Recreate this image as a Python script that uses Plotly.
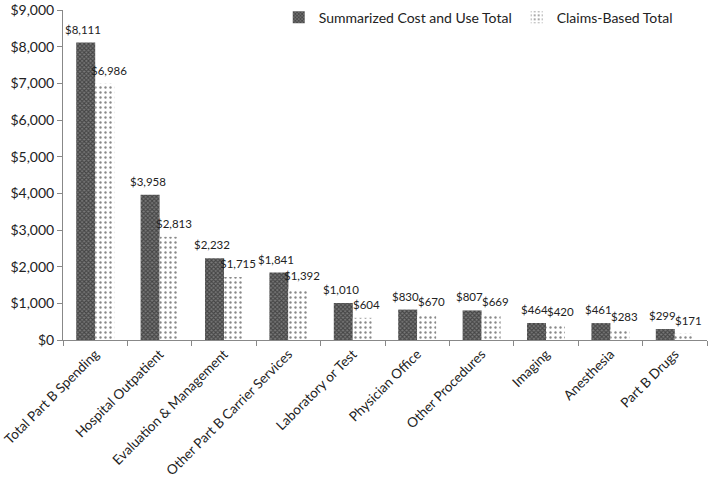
import plotly.graph_objects as go

categories = ["Total Part B Spending", "Hospital Outpatient", "Evaluation & Management",
              "Other Part B Carrier Services", "Laboratory or Test", "Physician Office",
              "Other Procedures", "Imaging", "Anesthesia", "Part B Drugs"]
summarized = [8111, 3958, 2232, 1841, 1010, 830, 807, 464, 461, 299]
claims = [6986, 2813, 1715, 1392, 604, 670, 669, 420, 283, 171]
y_ticks = [0, 1000, 2000, 3000, 4000, 5000, 6000, 7000, 8000, 9000]
y_tick_labels = ["$" + format(v, ",") for v in y_ticks]

FONT = "Lato, 'Open Sans', sans-serif"

fig = go.Figure()
fig.add_trace(go.Bar(
    x=categories, y=summarized, name="Summarized Cost and Use Total",
    marker=dict(color="#ffffff", line=dict(width=0),
                pattern=dict(shape="x", fgcolor="#111", bgcolor="#7a7a7a", size=3, solidity=0.6)),
))
fig.add_trace(go.Bar(
    x=categories, y=claims, name="Claims-Based Total",
    marker=dict(color="#ffffff", line=dict(width=0),
                pattern=dict(shape=".", fgcolor="#111", bgcolor="#ffffff", size=5, solidity=0.18)),
))

# value labels above each bar (positioned in data coordinates, shifted onto each bar of the group)
for cat, v in zip(categories, summarized):
    fig.add_annotation(x=cat, y=v, text="$" + format(v, ","), showarrow=False,
                       xanchor="center", yanchor="bottom", xshift=-12, yshift=5,
                       font=dict(size=11.5, color="#222", family=FONT))
for cat, v in zip(categories, claims):
    fig.add_annotation(x=cat, y=v, text="$" + format(v, ","), showarrow=False,
                       xanchor="center", yanchor="bottom", xshift=14, yshift=5,
                       font=dict(size=11.5, color="#222", family=FONT))

fig.update_layout(
    width=709, height=482,
    margin=dict(l=63, r=2, t=10, b=142),
    paper_bgcolor="white", plot_bgcolor="white",
    barmode="group", bargap=0.41, bargroupgap=0,
    font=dict(family=FONT, size=14, color="#222"),
    showlegend=True,
    legend=dict(orientation="h", x=0.335, xanchor="left", y=1.025, yanchor="top",
                font=dict(size=14, family=FONT), bgcolor="rgba(0,0,0,0)"),
)
fig.update_xaxes(
    showline=True, linecolor="#888", linewidth=1,
    ticks="outside", ticklen=5, tickcolor="#888", tickson="boundaries",
    tickangle=-45, tickfont=dict(size=13.5, family=FONT), showgrid=False,
    automargin=False,
)
fig.update_yaxes(
    range=[0, 9000], tickvals=y_ticks, ticktext=y_tick_labels,
    showline=True, linecolor="#888", linewidth=1,
    ticks="outside", ticklen=5, tickcolor="#888",
    tickfont=dict(size=14, family=FONT), showgrid=False, zeroline=False,
    automargin=False,
)

fig.write_html("out.html", config={"displayModeBar": False},
               post_script="document.body.style.margin='0';")
